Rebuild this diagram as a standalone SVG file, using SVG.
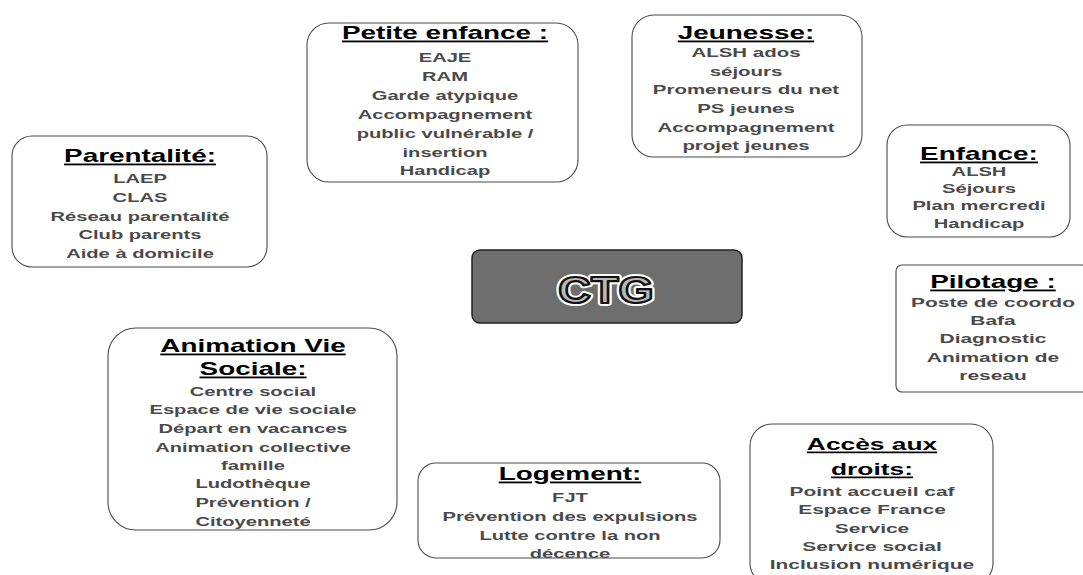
<svg xmlns="http://www.w3.org/2000/svg" width="1083" height="575" viewBox="0 0 1083 575">
<style>
.box{fill:#fff;stroke:#4a4a4a;stroke-width:1.1}
.t{font-family:"Liberation Sans",Arial,sans-serif;font-weight:bold;font-size:18px;text-anchor:middle;fill:#000;text-decoration:underline}
.i{font-family:"Liberation Sans",Arial,sans-serif;font-weight:bold;font-size:13px;text-anchor:middle;fill:#4a4a4a}
.ctg{font-family:"Liberation Sans",Arial,sans-serif;font-weight:bold;font-size:37px;text-anchor:middle}
</style>
<rect x="0" y="0" width="1083" height="575" fill="#fff"/>
<g id="connectors"/>
<g id="parentalite">
<rect class="box" x="12" y="136" width="255" height="131" rx="20"/>
<g transform="translate(140 0) scale(1.55 1)">
<text class="t" x="0" y="162">Parentalité:</text>
<text class="i" x="0" y="183">LAEP</text>
<text class="i" x="0" y="202">CLAS</text>
<text class="i" x="0" y="221">Réseau parentalité</text>
<text class="i" x="0" y="239">Club parents</text>
<text class="i" x="0" y="258">Aide à domicile</text>
</g>
</g>
<g id="petite-enfance">
<rect class="box" x="307" y="23" width="271" height="159" rx="22"/>
<g transform="translate(445 0) scale(1.55 1)">
<text class="t" x="0" y="39">Petite enfance :</text>
<text class="i" x="0" y="62">EAJE</text>
<text class="i" x="0" y="81">RAM</text>
<text class="i" x="0" y="100">Garde atypique</text>
<text class="i" x="0" y="119">Accompagnement</text>
<text class="i" x="0" y="138">public vulnérable /</text>
<text class="i" x="0" y="157">insertion</text>
<text class="i" x="0" y="175">Handicap</text>
</g>
</g>
<g id="jeunesse">
<rect class="box" x="632" y="15" width="230" height="142" rx="22"/>
<g transform="translate(746 0) scale(1.55 1)">
<text class="t" x="0" y="39">Jeunesse:</text>
<text class="i" x="0" y="57" style="font-size:13.2px">ALSH ados</text>
<text class="i" x="0" y="76" style="font-size:13.2px">séjours</text>
<text class="i" x="0" y="94" style="font-size:13.2px">Promeneurs du net</text>
<text class="i" x="0" y="113" style="font-size:13.2px">PS jeunes</text>
<text class="i" x="0" y="132" style="font-size:13.2px">Accompagnement</text>
<text class="i" x="0" y="150" style="font-size:13.2px">projet jeunes</text>
</g>
</g>
<g id="enfance">
<rect class="box" x="887" y="125" width="183" height="112" rx="20"/>
<g transform="translate(979 0) scale(1.55 1)">
<text class="t" x="0" y="160">Enfance:</text>
<text class="i" x="0" y="176">ALSH</text>
<text class="i" x="0" y="193">Séjours</text>
<text class="i" x="0" y="210">Plan mercredi</text>
<text class="i" x="0" y="228">Handicap</text>
</g>
</g>
<g id="pilotage">
<rect class="box" x="896" y="265" width="192" height="127" rx="6"/>
<g transform="translate(993 0) scale(1.55 1)">
<text class="t" x="0" y="288">Pilotage :</text>
<text class="i" x="0" y="307" style="font-size:13.5px">Poste de coordo</text>
<text class="i" x="0" y="325" style="font-size:13.5px">Bafa</text>
<text class="i" x="0" y="343" style="font-size:13.5px">Diagnostic</text>
<text class="i" x="0" y="362" style="font-size:13.5px">Animation de</text>
<text class="i" x="0" y="380" style="font-size:13.5px">reseau</text>
</g>
</g>
<g id="ctg">
<rect x="472" y="250" width="270" height="73" rx="8" fill="#6e6e6e" stroke="#222" stroke-width="1.5"/>
<g transform="translate(606 0) scale(1.22 1)">
<text class="ctg" x="0" y="303" fill="#fff" stroke="#fff" stroke-width="6" stroke-linejoin="round">CTG</text>
<text class="ctg" x="0" y="303" fill="#b8b8b8" stroke="#111" stroke-width="2.2" stroke-linejoin="round">CTG</text>
</g>
</g>
<g id="animation-vie-sociale">
<rect class="box" x="108" y="328" width="289" height="202" rx="28"/>
<g transform="translate(253 0) scale(1.55 1)">
<text class="t" x="0" y="352">Animation Vie</text>
<text class="t" x="0" y="375">Sociale:</text>
<text class="i" x="0" y="396">Centre social</text>
<text class="i" x="0" y="414">Espace de vie sociale</text>
<text class="i" x="0" y="433">Départ en vacances</text>
<text class="i" x="0" y="452">Animation collective</text>
<text class="i" x="0" y="470">famille</text>
<text class="i" x="0" y="488">Ludothèque</text>
<text class="i" x="0" y="507">Prévention /</text>
<text class="i" x="0" y="526">Citoyenneté</text>
</g>
</g>
<g id="logement">
<rect class="box" x="418" y="463" width="302" height="95" rx="18"/>
<g transform="translate(570 0) scale(1.55 1)">
<text class="t" x="0" y="480">Logement:</text>
<text class="i" x="0" y="502">FJT</text>
<text class="i" x="0" y="521">Prévention des expulsions</text>
<text class="i" x="0" y="540">Lutte contre la non</text>
<text class="i" x="0" y="558">décence</text>
</g>
</g>
<g id="acces-aux-droits">
<rect class="box" x="750" y="424" width="243" height="161" rx="22"/>
<g transform="translate(872 0) scale(1.55 1)">
<text class="t" x="0" y="450" style="font-size:17px">Accès aux</text>
<text class="t" x="0" y="475" style="font-size:17px">droits:</text>
<text class="i" x="0" y="496" style="font-size:13.5px">Point accueil caf</text>
<text class="i" x="0" y="514" style="font-size:13.5px">Espace France</text>
<text class="i" x="0" y="533" style="font-size:13.5px">Service</text>
<text class="i" x="0" y="551" style="font-size:13.5px">Service social</text>
<text class="i" x="0" y="569" style="font-size:13.5px">Inclusion numérique</text>
</g>
</g>
</svg>
